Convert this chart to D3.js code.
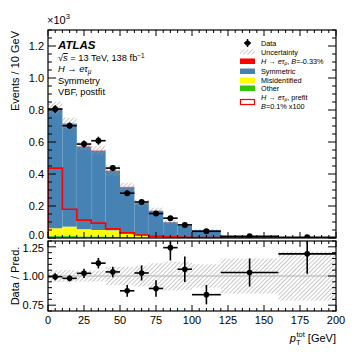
<!DOCTYPE html>
<html><head><meta charset="utf-8">
<script src="https://cdn.jsdelivr.net/npm/d3@7"></script>
<style>
body{margin:0;background:#fff;}
svg text{font-family:"Liberation Sans",Arial,Helvetica,sans-serif;}
</style></head>
<body><svg id="c" width="357" height="357"></svg>
<script>
// ---------- data (events in units of 10^3 / 10 GeV) ----------
const binEdges = [0,10,20,30,40,50,60,70,80,90,100,120,160,200];
const dataVals = [0.806,0.702,0.587,0.608,0.437,0.280,0.225,0.153,0.124,0.082,0.042,0.011,0.005];
const dataErr  = [0.024,0.020,0.022,0.025,0.020,0.016,0.014,0.011,0.011,0.009,0.004,0.0013,0.0008];
const other    = [0.012,0.012,0.010,0.010,0.009,0.006,0.004,0.003,0.002,0.002,0.001,0.0005,0.0003];
const misid    = [0.049,0.059,0.045,0.040,0.039,0.021,0.013,0.007,0.006,0.004,0.003,0.0005,0.0002];
const symmetric= [0.746,0.641,0.516,0.495,0.372,0.291,0.201,0.160,0.091,0.071,0.0455,0.0095,0.0036];
const signalPost=[0.004,0.004,0.003,0.003,0.002,0.002,0.001,0.001,0.001,0.0005,0.0005,0.0002,0.0001];
const signalPrefit=[0.437,0.180,0.112,0.093,0.057,0.032,0.019,0.010,0.007,0.005,0.003,0.001,0.0005];
const relUnc   = [0.050,0.050,0.048,0.048,0.078,0.078,0.090,0.110,0.125,0.120,0.100,0.150,0.210];
const ratioVals= [0.994,0.980,1.023,1.110,1.035,0.873,1.026,0.893,1.243,1.058,0.840,1.030,1.190];
const ratioErr = [0.030,0.025,0.040,0.045,0.045,0.050,0.065,0.070,0.110,0.110,0.083,0.120,0.170];
const xTicks = [0,25,50,75,100,125,150,175,200];
const yTicksMain = [0.0,0.2,0.4,0.6,0.8,1.0,1.2];
const yTicksRatio = [0.75,1.00,1.25];

// ---------- layout ----------
const L=48,R=336, mT=30,mB=238, rT=241,rB=311;
const svg=d3.select("#c");
const x=d3.scaleLinear().domain([0,200]).range([L,R]);
const y=d3.scaleLinear().domain([0,1.3]).range([mB,mT]);
const yr=d3.scaleLinear().domain([0.7,1.3]).range([rB,rT]);

const defs=svg.append("defs");
const pat=defs.append("pattern").attr("id","hatch").attr("patternUnits","userSpaceOnUse")
  .attr("width",3).attr("height",3).attr("patternTransform","rotate(45)");
pat.append("line").attr("x1",0).attr("y1",0).attr("x2",0).attr("y2",3)
  .attr("stroke","#9a9a9a").attr("stroke-width",1.1);
defs.append("clipPath").attr("id","cm").append("rect").attr("x",L).attr("y",mT).attr("width",R-L).attr("height",mB-mT);
defs.append("clipPath").attr("id","cr").append("rect").attr("x",L).attr("y",rT).attr("width",R-L).attr("height",rB-rT);

const bins=d3.range(dataVals.length).map(i=>{
  const o=other[i],m=misid[i],s=symmetric[i],g=signalPost[i];
  return {i,x0:binEdges[i],x1:binEdges[i+1],xc:(binEdges[i]+binEdges[i+1])/2,
    other:o, misid:m, sym:s, sig:g, total:o+m+s+g};
});

// ---------- main panel ----------
const gm=svg.append("g").attr("clip-path","url(#cm)");
const layers=[
  {key:"other",color:"#32c800"},
  {key:"misid",color:"#ffff00"},
  {key:"sym",color:"#4682b4"},
  {key:"sig",color:"#ff6060"}
];
bins.forEach(b=>{
  let base=0;
  layers.forEach(l=>{
    const v=b[l.key];
    gm.append("rect").attr("x",x(b.x0)).attr("width",x(b.x1)-x(b.x0))
      .attr("y",y(base+v)).attr("height",Math.max(0,y(base)-y(base+v)))
      .attr("fill",l.color);
    base+=v;
  });
});
// uncertainty hatched band
bins.forEach(b=>{
  const u=relUnc[b.i]*b.total;
  gm.append("rect").attr("x",x(b.x0)).attr("width",x(b.x1)-x(b.x0))
    .attr("y",y(b.total+u)).attr("height",y(b.total-u)-y(b.total+u))
    .attr("fill","url(#hatch)");
});
// prefit signal step outline
const stepPts=[];
bins.forEach(b=>{stepPts.push([b.x0,signalPrefit[b.i]]);stepPts.push([b.x1,signalPrefit[b.i]]);});
const step=[[0,0],...stepPts,[200,0]];
gm.append("path").attr("d",d3.line().x(d=>x(d[0])).y(d=>y(d[1]))(step))
  .attr("fill","none").attr("stroke","#ff0000").attr("stroke-width",1.6);
// data points
bins.forEach(b=>{
  const v=dataVals[b.i],e=dataErr[b.i];
  gm.append("line").attr("x1",x(b.x0)).attr("x2",x(b.x1)).attr("y1",y(v)).attr("y2",y(v))
    .attr("stroke","#000").attr("stroke-width",1.6);
  gm.append("line").attr("x1",x(b.xc)).attr("x2",x(b.xc)).attr("y1",y(v-e)).attr("y2",y(v+e))
    .attr("stroke","#000").attr("stroke-width",1.6);
  gm.append("circle").attr("cx",x(b.xc)).attr("cy",y(v)).attr("r",3).attr("fill","#000");
});

// ---------- ratio panel ----------
const gr=svg.append("g").attr("clip-path","url(#cr)");
bins.forEach(b=>{
  const u=relUnc[b.i];
  gr.append("rect").attr("x",x(b.x0)).attr("width",x(b.x1)-x(b.x0))
    .attr("y",yr(1+u)).attr("height",yr(1-u)-yr(1+u)).attr("fill","url(#hatch)");
});
gr.append("line").attr("x1",L).attr("x2",R).attr("y1",yr(1)).attr("y2",yr(1))
  .attr("stroke","#b0b0b0").attr("stroke-width",1);
bins.forEach(b=>{
  const v=ratioVals[b.i],e=ratioErr[b.i];
  gr.append("line").attr("x1",x(b.x0)).attr("x2",x(b.x1)).attr("y1",yr(v)).attr("y2",yr(v))
    .attr("stroke","#000").attr("stroke-width",1.6);
  gr.append("line").attr("x1",x(b.xc)).attr("x2",x(b.xc)).attr("y1",yr(v-e)).attr("y2",yr(v+e))
    .attr("stroke","#000").attr("stroke-width",1.6);
  gr.append("circle").attr("cx",x(b.xc)).attr("cy",yr(v)).attr("r",2.8).attr("fill","#000");
});

// ---------- axes (ATLAS style: inward ticks on all sides) ----------
function ticksX(top,bottom,major,minor){
  const g=svg.append("g").attr("stroke","#000").attr("stroke-width",1);
  d3.range(0,201,5).forEach(v=>{
    const len=(v%25===0)?major:minor;
    g.append("line").attr("x1",x(v)).attr("x2",x(v)).attr("y1",bottom).attr("y2",bottom-len);
    g.append("line").attr("x1",x(v)).attr("x2",x(v)).attr("y1",top).attr("y2",top+len);
  });
}
function ticksY(scale,lo,hi,step,majorStep,major,minor){
  const g=svg.append("g").attr("stroke","#000").attr("stroke-width",1);
  const n=Math.round((hi-lo)/step);
  for(let k=0;k<=n;k++){
    const v=lo+k*step;
    const isMaj=Math.abs(v/majorStep-Math.round(v/majorStep))<1e-6;
    const len=isMaj?major:minor;
    g.append("line").attr("x1",L).attr("x2",L+len).attr("y1",scale(v)).attr("y2",scale(v));
    g.append("line").attr("x1",R).attr("x2",R-len).attr("y1",scale(v)).attr("y2",scale(v));
  }
}
ticksX(mT,mB,6,3);
ticksX(rT,rB,6,3);
ticksY(y,0,1.3,0.05,0.2,8,4);
ticksY(yr,0.70,1.30,0.05,0.25,8,4);
svg.append("rect").attr("x",L).attr("y",mT).attr("width",R-L).attr("height",mB-mT)
  .attr("fill","none").attr("stroke","#000").attr("stroke-width",1.2);
svg.append("rect").attr("x",L).attr("y",rT).attr("width",R-L).attr("height",rB-rT)
  .attr("fill","none").attr("stroke","#000").attr("stroke-width",1.2);

// tick labels
svg.selectAll(".yl").data(yTicksMain).enter().append("text")
  .attr("x",L-4).attr("y",d=>d===0?y(d)+0.5:y(d)+4).attr("text-anchor","end").attr("font-size",11)
  .text(d=>d3.format(".1f")(d));
svg.selectAll(".yr").data(yTicksRatio).enter().append("text")
  .attr("x",L-4).attr("y",d=>d===1.25?yr(d)+5.5:yr(d)+4).attr("text-anchor","end").attr("font-size",11)
  .text(d=>d3.format(".2f")(d));
svg.selectAll(".xl").data(xTicks).enter().append("text")
  .attr("x",d=>x(d)).attr("y",rB+13).attr("text-anchor","middle").attr("font-size",11)
  .text(d=>d);

// ×10^3
const t3=svg.append("text").attr("x",L-1).attr("y",mT-6).attr("font-size",11);
t3.append("tspan").text("×10");
t3.append("tspan").attr("dy",-5).attr("font-size",7.5).text("3");

// axis titles
svg.append("text").attr("transform",`translate(19,${mT+1}) rotate(-90)`)
  .attr("text-anchor","end").attr("font-size",11).text("Events / 10 GeV");
svg.append("text").attr("transform",`translate(19,${(rT+rB)/2}) rotate(-90)`)
  .attr("text-anchor","middle").attr("font-size",11).text("Data / Pred.");
const xt=svg.append("text").attr("x",R).attr("y",rB+31).attr("text-anchor","end").attr("font-size",11);
xt.append("tspan").attr("font-style","italic").text("p");
xt.append("tspan").attr("dy",3).attr("font-size",7.5).text("T");
xt.append("tspan").attr("dx",-4).attr("dy",-8).attr("font-size",7.5).text("tot");
xt.append("tspan").attr("dy",5).text(" [GeV]");

// ATLAS label block
const tf=9.3;
svg.append("text").attr("x",58).attr("y",48.5).attr("font-size",11.5).attr("font-weight","bold")
  .attr("font-style","italic").text("ATLAS");
const s1=svg.append("text").attr("x",58).attr("y",61).attr("font-size",tf);
s1.append("tspan").text("√");
s1.append("tspan").attr("text-decoration","overline").attr("font-style","italic").text("s");
s1.append("tspan").text(" = 13 TeV, 138 fb");
s1.append("tspan").attr("dy",-3.5).attr("font-size",6.5).text("−1");
const s2=svg.append("text").attr("x",58).attr("y",72).attr("font-size",tf);
s2.append("tspan").attr("font-style","italic").text("H");
s2.append("tspan").text(" → ");
s2.append("tspan").attr("font-style","italic").text("eτ");
s2.append("tspan").attr("dy",2).attr("font-size",6.5).attr("font-style","italic").text("μ");
svg.append("text").attr("x",58).attr("y",84).attr("font-size",tf).text("Symmetry");
svg.append("text").attr("x",58).attr("y",95).attr("font-size",tf).text("VBF, postfit");

// legend
const lgX=240, lgW=15, lgT=261, fs=7.3;
const lg=svg.append("g");
lg.append("circle").attr("cx",lgX+lgW/2).attr("cy",43).attr("r",2.6).attr("fill","#000");
lg.append("line").attr("x1",lgX+lgW/2).attr("x2",lgX+lgW/2).attr("y1",39).attr("y2",47).attr("stroke","#000").attr("stroke-width",1.5);
lg.append("line").attr("x1",lgX+lgW/2-3.5).attr("x2",lgX+lgW/2+3.5).attr("y1",43).attr("y2",43).attr("stroke","#000").attr("stroke-width",1.5);
lg.append("text").attr("x",lgT).attr("y",45.5).attr("font-size",fs).text("Data");
lg.append("rect").attr("x",lgX).attr("y",49.5).attr("width",lgW).attr("height",5).attr("fill","url(#hatch)");
lg.append("text").attr("x",lgT).attr("y",54.5).attr("font-size",fs).text("Uncertainty");
const boxes=[{y:58.5,c:"#ff0000"},{y:68.5,c:"#4682b4"},{y:77.5,c:"#ffff00"},{y:85.5,c:"#32c800"}];
boxes.forEach(b=>lg.append("rect").attr("x",lgX).attr("y",b.y).attr("width",lgW).attr("height",5.5).attr("fill",b.c));
const l3=lg.append("text").attr("x",lgT).attr("y",63.5).attr("font-size",fs);
l3.append("tspan").attr("font-style","italic").text("H");
l3.append("tspan").text(" → ");
l3.append("tspan").attr("font-style","italic").text("eτ");
l3.append("tspan").attr("dy",1.5).attr("font-size",5).attr("font-style","italic").text("μ");
l3.append("tspan").attr("dy",-1.5).text(", ");
l3.append("tspan").attr("font-style","italic").text("B");
l3.append("tspan").text("=-0.33%");
lg.append("text").attr("x",lgT).attr("y",73.5).attr("font-size",fs).text("Symmetric");
lg.append("text").attr("x",lgT).attr("y",82.5).attr("font-size",fs).text("Misidentified");
lg.append("text").attr("x",lgT).attr("y",90.5).attr("font-size",fs).text("Other");
lg.append("rect").attr("x",lgX+0.5).attr("y",99.5).attr("width",lgW-1).attr("height",5).attr("fill","none")
  .attr("stroke","#ff0000").attr("stroke-width",1.2);
const l7=lg.append("text").attr("x",lgT).attr("y",99.5).attr("font-size",fs);
l7.append("tspan").attr("font-style","italic").text("H");
l7.append("tspan").text(" → ");
l7.append("tspan").attr("font-style","italic").text("eτ");
l7.append("tspan").attr("dy",1.5).attr("font-size",5).attr("font-style","italic").text("μ");
l7.append("tspan").attr("dy",-1.5).text(", prefit");
const l8=lg.append("text").attr("x",lgT).attr("y",108.5).attr("font-size",fs);
l8.append("tspan").attr("font-style","italic").text("B");
l8.append("tspan").text("=0.1% x100");
</script></body></html>
